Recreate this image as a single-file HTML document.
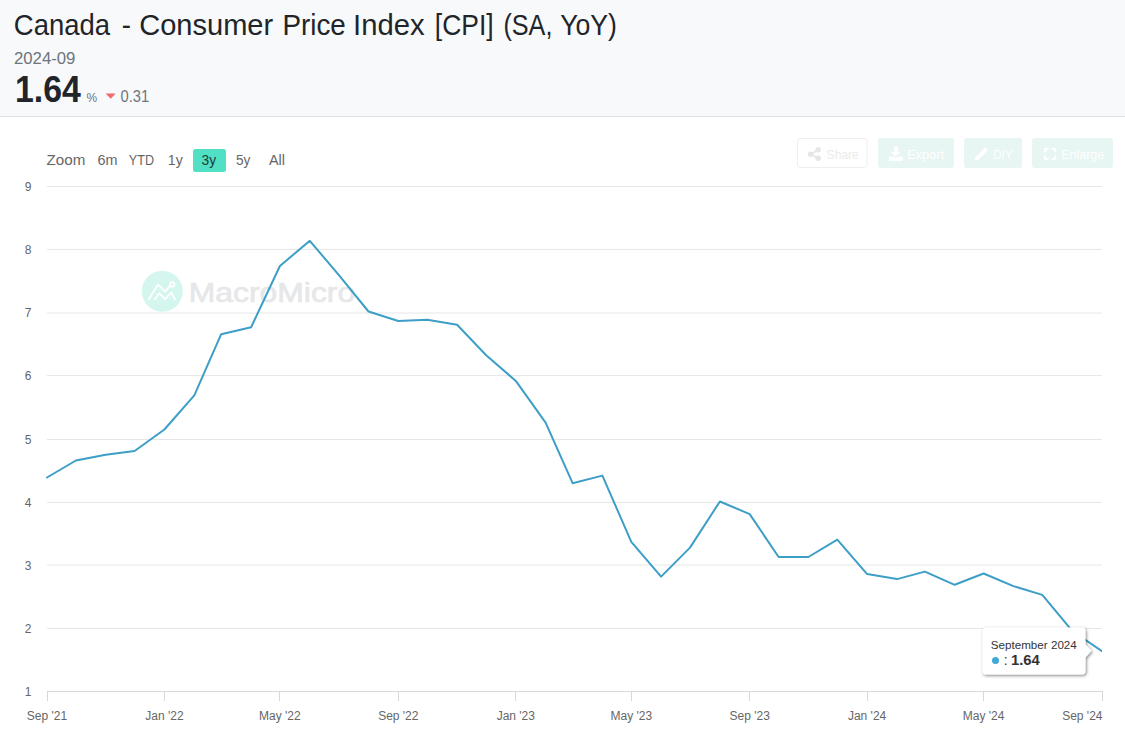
<!DOCTYPE html>
<html><head><meta charset="utf-8"><title>Canada - Consumer Price Index [CPI] (SA, YoY)</title>
<style>
html,body{margin:0;padding:0;background:#fff;}
body{width:1125px;height:737px;overflow:hidden;position:relative;font-family:"Liberation Sans",Arial,sans-serif;}
svg{position:absolute;left:0;top:0;display:block;}
</style></head><body>
<svg width="1125" height="737" viewBox="0 0 1125 737" font-family="Liberation Sans, Arial, sans-serif">
<defs>
<filter id="sh" x="-20%" y="-20%" width="150%" height="160%"><feDropShadow dx="1" dy="1.2" stdDeviation="1.4" flood-color="#000" flood-opacity="0.5"/></filter>
<clipPath id="plot"><rect x="40" y="170" width="1062" height="530"/></clipPath>
</defs>
<!-- header -->
<rect x="0" y="0" width="1125" height="116" fill="#f8f9fa"/>
<rect x="0" y="116" width="1125" height="1" fill="#dee2e6"/>
<text x="13.8" y="34.9" font-size="29.6" fill="#212529" textLength="96.2" lengthAdjust="spacingAndGlyphs">Canada</text><text x="121.8" y="34.9" font-size="29.6" fill="#212529" textLength="9.2" lengthAdjust="spacingAndGlyphs">-</text><text x="139.2" y="34.9" font-size="29.6" fill="#212529" textLength="134.0" lengthAdjust="spacingAndGlyphs">Consumer</text><text x="282.4" y="34.9" font-size="29.6" fill="#212529" textLength="63.4" lengthAdjust="spacingAndGlyphs">Price</text><text x="353.0" y="34.9" font-size="29.6" fill="#212529" textLength="71.6" lengthAdjust="spacingAndGlyphs">Index</text><text x="434.8" y="34.9" font-size="29.6" fill="#212529" textLength="58.8" lengthAdjust="spacingAndGlyphs">[CPI]</text><text x="503.4" y="34.9" font-size="29.6" fill="#212529" textLength="49.0" lengthAdjust="spacingAndGlyphs">(SA,</text><text x="560.2" y="34.9" font-size="29.6" fill="#212529" textLength="56.8" lengthAdjust="spacingAndGlyphs">YoY)</text>
<text x="14.0" y="63.9" font-size="16.0" fill="#6c757d" textLength="61.4" lengthAdjust="spacingAndGlyphs">2024-09</text>
<text x="15.0" y="102.1" font-size="36.0" font-weight="bold" fill="#212529" textLength="65.8" lengthAdjust="spacingAndGlyphs">1.64</text>
<text x="86.4" y="102.2" font-size="12.0" fill="#6c757d" textLength="10.6" lengthAdjust="spacingAndGlyphs">%</text>
<path d="M105.7 93.5 L115.7 93.5 L110.7 98.8 Z" fill="#ef6a6a"/>
<text x="120.6" y="102.2" font-size="16.0" fill="#6c757d" textLength="28.6" lengthAdjust="spacingAndGlyphs">0.31</text>

<!-- watermark -->
<circle cx="162.3" cy="291.2" r="20.5" fill="#d5f6ef"/>
<g fill="none" stroke="#fff" stroke-width="1.8" stroke-linecap="round" stroke-linejoin="round">
<polyline points="148.8,299.2 158.1,284.6 165.1,291.6 170.2,285.6"/>
<polyline points="154.9,299.2 159.3,293.4 165.1,299.2 171.2,292.5 175,299.2"/>
<circle cx="172.2" cy="284.4" r="2.2"/>
</g>
<text x="188.8" y="302" font-size="27.5" fill="#e6e7e9" textLength="166.4" lengthAdjust="spacingAndGlyphs" stroke="#e6e7e9" stroke-width="0.7">MacroMicro</text>

<!-- grid -->
<g stroke="#e6e6e6" stroke-width="1"><line x1="47" x2="1102" y1="628.5" y2="628.5"/><line x1="47" x2="1102" y1="565.0" y2="565.0"/><line x1="47" x2="1102" y1="502.4" y2="502.4"/><line x1="47" x2="1102" y1="439.5" y2="439.5"/><line x1="47" x2="1102" y1="375.6" y2="375.6"/><line x1="47" x2="1102" y1="313.0" y2="313.0"/><line x1="47" x2="1102" y1="249.4" y2="249.4"/><line x1="47" x2="1102" y1="186.5" y2="186.5"/></g>
<line x1="47" x2="1102" y1="691.5" y2="691.5" stroke="#d8d8d8"/>
<g stroke="#d8d8d8" stroke-width="1"><line x1="47.5" x2="47.5" y1="691" y2="701"/><line x1="164.5" x2="164.5" y1="691" y2="701"/><line x1="279.5" x2="279.5" y1="691" y2="701"/><line x1="398.5" x2="398.5" y1="691" y2="701"/><line x1="515.5" x2="515.5" y1="691" y2="701"/><line x1="631.5" x2="631.5" y1="691" y2="701"/><line x1="749.5" x2="749.5" y1="691" y2="701"/><line x1="867.5" x2="867.5" y1="691" y2="701"/><line x1="983.5" x2="983.5" y1="691" y2="701"/><line x1="1102.5" x2="1102.5" y1="691" y2="701"/></g>
<g font-size="12" fill="#666" text-anchor="end"><text x="31.5" y="696.3">1</text><text x="31.5" y="633.3">2</text><text x="31.5" y="570.3">3</text><text x="31.5" y="507.3">4</text><text x="31.5" y="444.3">5</text><text x="31.5" y="380.3">6</text><text x="31.5" y="317.3">7</text><text x="31.5" y="254.3">8</text><text x="31.5" y="191.3">9</text></g>
<g font-size="12" fill="#666"><text x="47.0" y="720" text-anchor="middle">Sep '21</text><text x="164.4" y="720" text-anchor="middle">Jan '22</text><text x="279.9" y="720" text-anchor="middle">May '22</text><text x="398.3" y="720" text-anchor="middle">Sep '22</text><text x="515.8" y="720" text-anchor="middle">Jan '23</text><text x="631.3" y="720" text-anchor="middle">May '23</text><text x="749.7" y="720" text-anchor="middle">Sep '23</text><text x="867.1" y="720" text-anchor="middle">Jan '24</text><text x="983.6" y="720" text-anchor="middle">May '24</text><text x="1102.5" y="720" text-anchor="end">Sep '24</text></g>

<!-- range selector -->
<text x="46.6" y="165.1" font-size="15.0" fill="#666" textLength="38.8" lengthAdjust="spacingAndGlyphs">Zoom</text>
<text x="97.4" y="165.1" font-size="15.0" fill="#666" textLength="20.0" lengthAdjust="spacingAndGlyphs">6m</text>
<text x="128.8" y="165.1" font-size="15.0" fill="#666" textLength="25.2" lengthAdjust="spacingAndGlyphs">YTD</text>
<text x="167.8" y="165.1" font-size="15.0" fill="#666" textLength="15.0" lengthAdjust="spacingAndGlyphs">1y</text>
<rect x="193" y="149" width="33" height="23" rx="2.5" fill="#52e0c4"/>
<text x="201.6" y="165.1" font-size="15.0" fill="#1e3b35" textLength="14.6" lengthAdjust="spacingAndGlyphs">3y</text>
<text x="236.0" y="165.1" font-size="15.0" fill="#666" textLength="14.4" lengthAdjust="spacingAndGlyphs">5y</text>
<text x="269.0" y="165.1" font-size="15.0" fill="#666" textLength="16.0" lengthAdjust="spacingAndGlyphs">All</text>

<!-- right buttons -->
<rect x="797.5" y="138.5" width="69.5" height="29" rx="3" fill="#fff" stroke="#eeeeee"/>
<g fill="#e6e6e6"><circle cx="818.2" cy="149.8" r="2.7"/><circle cx="810.6" cy="154.2" r="2.7"/><circle cx="818.2" cy="158.3" r="2.7"/></g>
<path d="M818.2 149.8 L810.6 154.2 L818.2 158.3" stroke="#e6e6e6" stroke-width="1.6" fill="none"/>
<text x="826.6" y="159.3" font-size="13.0" fill="#ebebeb" textLength="32.2" lengthAdjust="spacingAndGlyphs">Share</text>
<rect x="878" y="138" width="76" height="30" rx="3" fill="#e7f5f3"/>
<path d="M894.1 146.7 h4 v5.4 h2.3 l-4.7 4.7 l-4.7 -4.7 h3.1 z M889 156.4 h4.6 l2.1 2.1 l2.1 -2.1 h4.9 v4.5 h-13.7z" fill="#fff"/>
<text x="907.2" y="159.3" font-size="13.0" fill="#fff" textLength="36.8" lengthAdjust="spacingAndGlyphs">Export</text>
<rect x="964" y="138" width="58" height="30" rx="3" fill="#e7f5f3"/>
<path d="M985 147.6 L988 150.6 L978 160.2 L974.6 160.8 L975.2 157.4 Z" fill="#fff"/>
<text x="993.0" y="159.3" font-size="13.0" fill="#fff" textLength="19.6" lengthAdjust="spacingAndGlyphs">DIY</text>
<rect x="1032" y="138" width="81" height="30" rx="3" fill="#e7f5f3"/>
<path d="M1045 152.2 v-3.4 h3.6 M1051.6 148.8 h3.6 v3.4 M1055.2 155.6 v3.4 h-3.6 M1048.6 159 h-3.6 v-3.4" stroke="#fff" stroke-width="2" fill="none"/>
<text x="1061.2" y="159.3" font-size="13.0" fill="#fff" textLength="43.0" lengthAdjust="spacingAndGlyphs">Enlarge</text>

<!-- series -->
<polyline clip-path="url(#plot)" points="47.0,477.5 75.9,460.5 105.7,454.8 134.6,451.0 164.4,429.5 194.3,395.4 221.2,334.2 251.1,327.3 279.9,266.0 309.8,240.8 338.7,274.9 368.5,311.5 398.3,321.0 427.2,319.7 457.1,324.7 485.9,355.0 515.8,380.9 545.6,422.6 572.6,483.2 602.4,475.6 631.3,541.9 661.1,576.6 690.0,547.6 719.9,501.5 749.7,514.1 778.6,557.0 808.4,557.0 837.3,539.7 867.1,574.1 897.0,579.1 924.9,571.6 954.7,584.8 983.6,573.5 1013.4,586.1 1042.3,594.9 1072.2,630.9 1102.0,651.1" fill="none" stroke="#3d9ec7" stroke-width="2" stroke-linejoin="round" stroke-linecap="round"/>

<!-- tooltip -->
<path filter="url(#sh)" d="M985.5 627.5 H1082.5 Q1085.5 627.5 1085.5 630.5 V644.5 L1091.5 650.8 L1085.5 657.5 V671.5 Q1085.5 674.5 1082.5 674.5 H985.5 Q982.5 674.5 982.5 671.5 V630.5 Q982.5 627.5 985.5 627.5 Z" fill="#fff"/>
<text x="990.8" y="648.7" font-size="11.5" fill="#333" textLength="86.0" lengthAdjust="spacingAndGlyphs">September 2024</text>
<circle cx="995.5" cy="660.4" r="3.5" fill="#40a8d6"/>
<text x="1003.8" y="664.5" font-size="14" fill="#333">:</text>
<text x="1011.0" y="664.5" font-size="14.5" font-weight="bold" fill="#333" textLength="28.8" lengthAdjust="spacingAndGlyphs">1.64</text>
</svg>
</body></html>
